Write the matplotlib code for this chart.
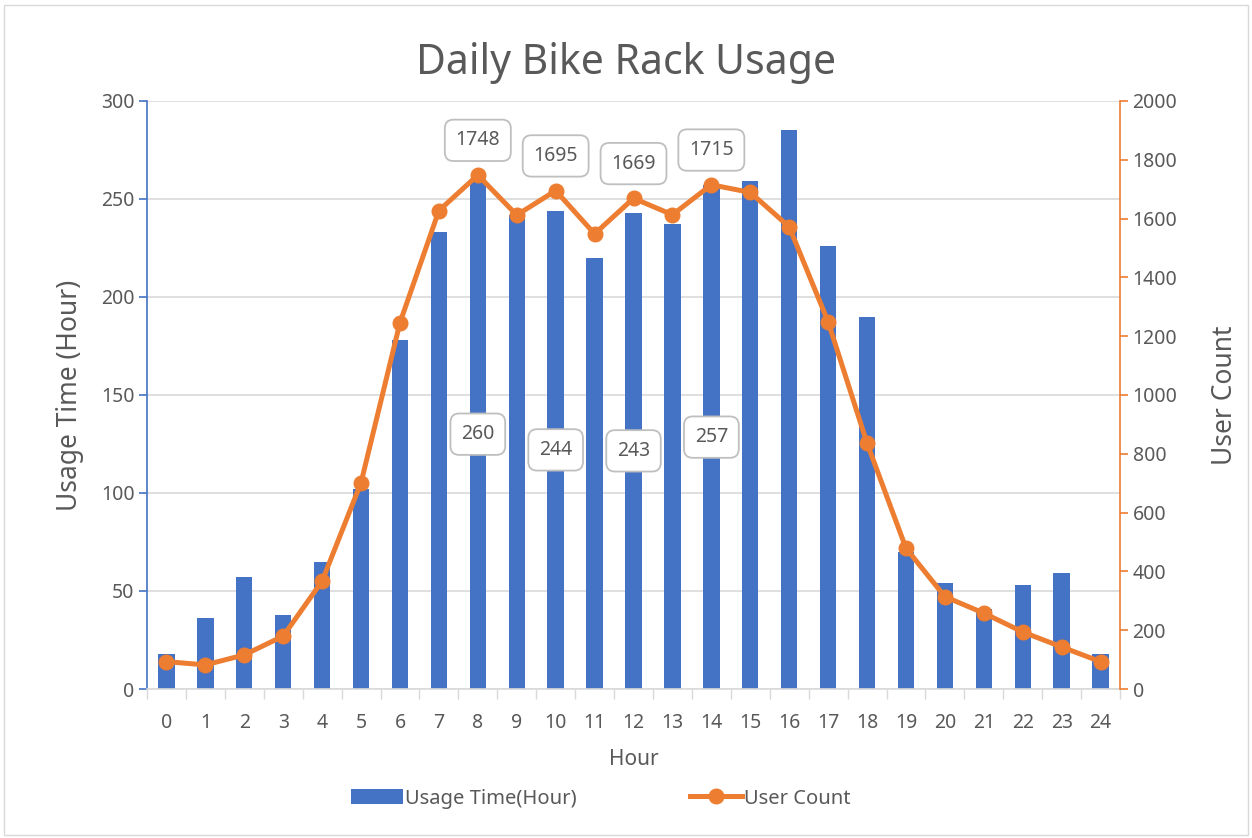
import numpy as np
import matplotlib.pyplot as plt
from matplotlib.patches import Rectangle

plt.rcParams['font.family'] = ['Noto Sans', 'DejaVu Sans']

hours = list(range(25))
usage_time = [18, 36, 57, 38, 65, 102, 178, 233, 260, 242, 244, 220, 243, 237, 257,
              259, 285, 226, 190, 70, 54, 41, 53, 59, 18]
user_count = [93, 82, 116, 180, 367, 702, 1246, 1627, 1748, 1612, 1695, 1548, 1669, 1613,
              1715, 1689, 1572, 1249, 836, 479, 314, 258, 194, 143, 93]
labelled = [8, 10, 12, 14]

blue = '#4472C4'
orange = '#ED7D31'
grey_txt = '#595959'
grid_c = '#D9D9D9'

fig = plt.figure(figsize=(12.52, 8.38), dpi=100)
ax = fig.add_axes([0.1174, 0.1778, 0.7772, 0.7017])
ax2 = ax.twinx()

x = np.array(hours)
ax.bar(x, usage_time, width=0.42, color=blue, zorder=2, label='Usage Time(Hour)')
ax2.plot(x, user_count, color=orange, lw=3.6, marker='o', ms=10.5, zorder=3,
         label='User Count', solid_joinstyle='round')

ax.set_xlim(-0.5, 24.5)
ax.set_ylim(0, 300)
ax2.set_ylim(0, 2000)
ax.set_yticks(np.arange(0, 301, 50))
ax2.set_yticks(np.arange(0, 2001, 200))
ax.set_xticks(x)
ax.set_xticks(np.arange(-0.5, 25, 1), minor=True)
ax.tick_params(axis='x', which='major', length=0, pad=17, labelsize=14, labelcolor=grey_txt)
ax.tick_params(axis='x', which='minor', length=7, color=grid_c, width=1)
ax.tick_params(axis='y', length=6, color=blue, width=1.2, labelsize=14, labelcolor=grey_txt, pad=3)
ax2.tick_params(axis='y', length=6, color=orange, width=1.2, labelsize=14, labelcolor=grey_txt, pad=3)

ax.grid(axis='y', color=grid_c, lw=1.2, zorder=0)
ax.set_axisbelow(True)
for a in (ax, ax2):
    a.spines['top'].set_visible(False)
ax.spines['right'].set_visible(False)
ax2.spines['left'].set_visible(False)
ax2.spines['bottom'].set_visible(False)
ax.spines['left'].set_color(blue)
ax.spines['left'].set_linewidth(1.2)
ax2.spines['right'].set_color(orange)
ax2.spines['right'].set_linewidth(1.2)
ax.spines['bottom'].set_color(grid_c)
ax.spines['bottom'].set_linewidth(1.2)

ax.set_xlabel('Hour', fontsize=15, color=grey_txt, labelpad=12)
ax.set_ylabel('Usage Time (Hour)', fontsize=19, color=grey_txt, labelpad=12)
ax2.set_ylabel('User Count', fontsize=19, color=grey_txt, labelpad=24)
fig.suptitle('Daily Bike Rack Usage', fontsize=29.5, color=grey_txt, y=0.95)

box = dict(boxstyle='round,pad=0.55,rounding_size=0.45', fc='white', ec='#BFBFBF', lw=1.3)
for i in labelled:
    ax.annotate(str(usage_time[i]), (x[i], usage_time[i] / 2), ha='center', va='center',
                fontsize=14, color=grey_txt, bbox=box, zorder=5)
    ax2.annotate(str(user_count[i]), (x[i], user_count[i]), xytext=(0, 25),
                 textcoords='offset points', ha='center', va='center',
                 fontsize=14, color=grey_txt, bbox=box, zorder=5)

h1, l1 = ax.get_legend_handles_labels()
h2, l2 = ax2.get_legend_handles_labels()
fig.legend(h1 + h2, l1 + l2, loc='center', bbox_to_anchor=(0.48, 0.047), ncol=2,
           frameon=False, fontsize=14.5, labelcolor=grey_txt, handlelength=2.6,
           handleheight=0.75, handletextpad=0.1, columnspacing=5.6)

fig.patches.append(Rectangle((0.003, 0.004), 0.994, 0.99, transform=fig.transFigure,
                             fill=False, ec='#D9D9D9', lw=1))

fig.savefig('out.png', dpi=100)
